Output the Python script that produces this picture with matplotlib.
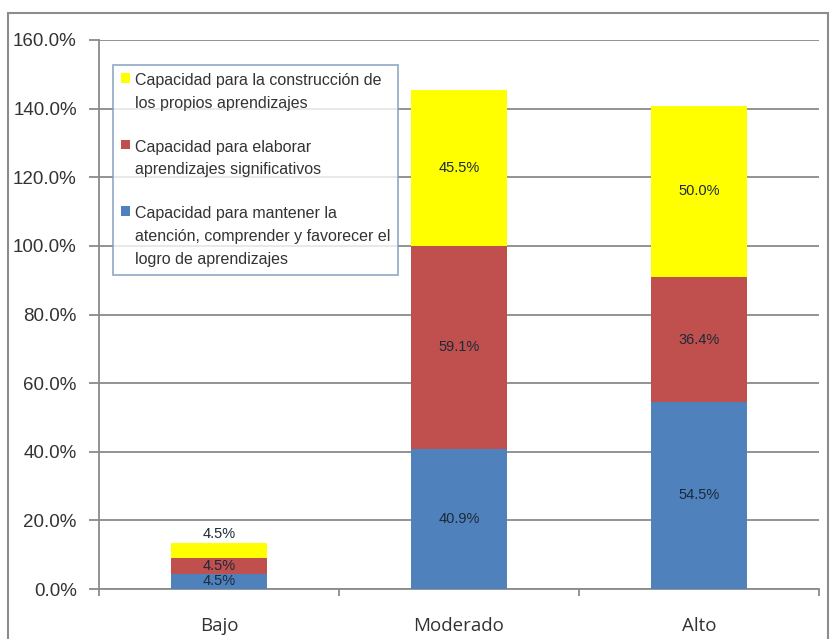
import matplotlib
matplotlib.use('Agg')
import matplotlib.pyplot as plt
from matplotlib.patches import Rectangle
from matplotlib.ticker import FuncFormatter

# data
categories = ['Bajo', 'Moderado', 'Alto']
atencion = [4.5, 40.9, 54.5]
significativos = [4.5, 59.1, 36.4]
propios = [4.5, 45.5, 50.0]
series_names = ['Capacidad para la construcción de\nlos propios aprendizajes',
                'Capacidad para elaborar\naprendizajes significativos',
                'Capacidad para mantener la\natención, comprender y favorecer el\nlogro de aprendizajes']
y_ticks = [0, 20, 40, 60, 80, 100, 120, 140, 160]

blue = '#4F81BD'
red = '#C0504D'
yellow = '#FFFF00'
label_color = '#1c2a3a'

plt.rcParams['font.family'] = ['Liberation Sans', 'DejaVu Sans']

fig = plt.figure(figsize=(8.3, 6.39), dpi=100)
ax = fig.add_axes([99 / 830, 1 - 589 / 639, 720 / 830, 549 / 639])

# outer chart border
fig.patches.append(Rectangle((8 / 830, -0.05), 820 / 830, 1.05 - 13 / 639,
                             transform=fig.transFigure, fill=False,
                             edgecolor='#8c8c8c', linewidth=1.5))

x = range(len(categories))
bottom2 = [a for a in atencion]
bottom3 = [a + b for a, b in zip(atencion, significativos)]

b1 = ax.bar(x, atencion, width=0.4, color=blue, zorder=3)
b2 = ax.bar(x, significativos, width=0.4, bottom=bottom2, color=red, zorder=3)
b3 = ax.bar(x, propios, width=0.4, bottom=bottom3, color=yellow, zorder=3)

fmt = lambda v: '%.1f%%' % v
ax.bar_label(b1, labels=[fmt(v) for v in atencion], label_type='center',
             color=label_color, fontsize=10.5)
ax.bar_label(b2, labels=[fmt(v) for v in significativos], label_type='center',
             color=label_color, fontsize=10.5)
# small bar: label sits above, others centered
ax.bar_label(b3, labels=[fmt(propios[0]), '', ''], label_type='edge', padding=1,
             color=label_color, fontsize=10.5)
ax.bar_label(b3, labels=[''] + [fmt(v) for v in propios[1:]], label_type='center',
             color=label_color, fontsize=10.5)

ax.set_ylim(0, 160)
ax.set_xlim(-0.5, len(categories) - 0.5)
ax.set_yticks(y_ticks)
ax.yaxis.set_major_formatter(FuncFormatter(lambda v, p: '%.1f%%' % v))
ax.grid(axis='y', color='#8a8a8a', linewidth=1.3, zorder=0)
ax.tick_params(axis='y', length=7, width=1.3, color='#8a8a8a', labelsize=13.5,
               labelcolor='#333333', pad=9)

ax.set_xticks(list(x))
ax.set_xticklabels(categories, fontfamily='Open Sans', fontsize=13.5, color='#333333')
ax.tick_params(axis='x', which='major', length=0, pad=20)
ax.set_xticks([i - 0.5 for i in range(len(categories) + 1)], minor=True)
ax.tick_params(axis='x', which='minor', length=5, width=1.3, color='#8a8a8a')

for side in ['top', 'right']:
    ax.spines[side].set_visible(False)
for side in ['left', 'bottom']:
    ax.spines[side].set_color('#8a8a8a')
    ax.spines[side].set_linewidth(1.3)

leg = ax.legend([b3, b2, b1], series_names, loc='upper left',
                bbox_to_anchor=(14 / 720, (589 - 65) / 549), fontsize=11.5,
                frameon=True, fancybox=False, handlelength=0.55, handleheight=0.55,
                handletextpad=0.3, labelspacing=1.8, borderpad=0.5,
                borderaxespad=0)
leg.get_frame().set_edgecolor('#7f9bbf')
leg.get_frame().set_linewidth(1.3)
leg.set_zorder(5)
for t in leg.get_texts():
    t.set_color('#333333')
    t.set_linespacing(1.65)
# put the colour squares next to the first line of each entry
for col in leg._legend_handle_box.get_children():
    for item in col.get_children():
        item.align = 'top'

plt.savefig('out.png', dpi=100)
